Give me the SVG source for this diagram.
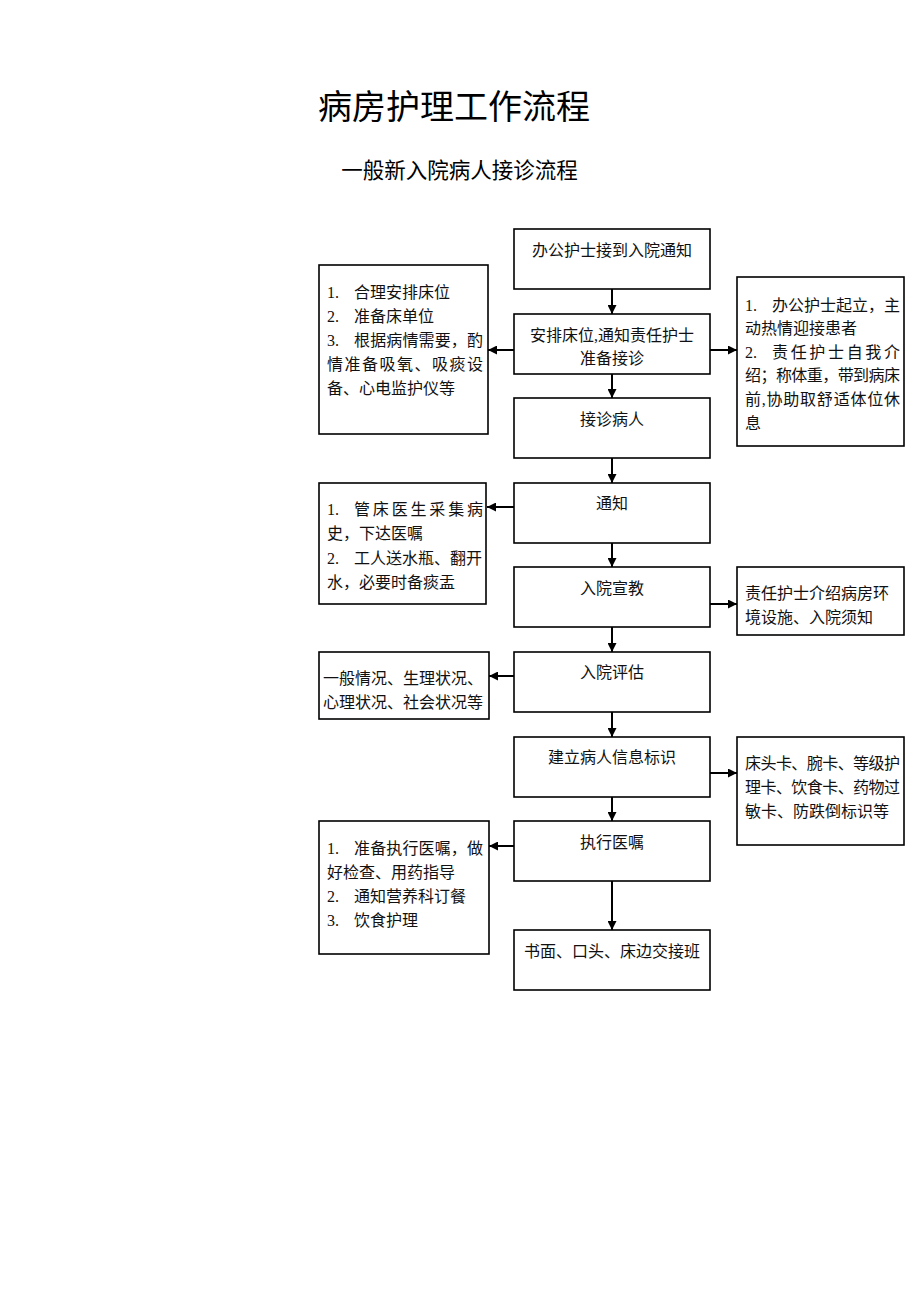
<svg xmlns="http://www.w3.org/2000/svg" width="920" height="1302" viewBox="0 0 920 1302">
<style>
  .bg { fill: #ffffff; }
  .box { fill: #ffffff; stroke: #000000; stroke-width: 1.6; }
  .t { font-family: "Liberation Serif", "Noto Sans CJK SC", serif; font-size: 16px; fill: #111111; }
  .c { text-anchor: middle; }
  .title { font-family: "Liberation Serif", "Noto Sans CJK SC", serif; font-size: 34px; fill: #000000; text-anchor: middle; }
  .sub { font-family: "Liberation Serif", "Noto Sans CJK SC", serif; font-size: 21.5px; fill: #000000; text-anchor: middle; }
  .ln { stroke: #000000; stroke-width: 2; fill: none; marker-end: url(#ah); }
</style>
<defs>
  <marker id="ah" viewBox="0 0 10 10" refX="10" refY="5" markerWidth="9" markerHeight="9" markerUnits="userSpaceOnUse" orient="auto">
    <path d="M0,0 L10,5 L0,10 z" fill="#000000"/>
  </marker>
</defs>
<rect class="bg" x="0" y="0" width="920" height="1302"/>

<text class="title" x="454" y="119">病房护理工作流程</text>
<text class="sub" x="459.5" y="178">一般新入院病人接诊流程</text>

<g id="connectors">
  <line class="ln" x1="612" y1="289" x2="612" y2="314"/>
  <line class="ln" x1="612" y1="374" x2="612" y2="398"/>
  <line class="ln" x1="612" y1="458" x2="612" y2="483"/>
  <line class="ln" x1="612" y1="543" x2="612" y2="567"/>
  <line class="ln" x1="612" y1="627" x2="612" y2="652"/>
  <line class="ln" x1="612" y1="712" x2="612" y2="737"/>
  <line class="ln" x1="612" y1="797" x2="612" y2="821"/>
  <line class="ln" x1="612" y1="881" x2="612" y2="930"/>
  <line class="ln" x1="514" y1="350" x2="488" y2="350"/>
  <line class="ln" x1="710" y1="350" x2="737" y2="350"/>
  <line class="ln" x1="514" y1="507" x2="487" y2="507"/>
  <line class="ln" x1="710" y1="604" x2="737" y2="604"/>
  <line class="ln" x1="514" y1="676" x2="489" y2="676"/>
  <line class="ln" x1="710" y1="773" x2="737" y2="773"/>
  <line class="ln" x1="514" y1="846" x2="489" y2="846"/>
</g>

<g id="n1">
  <rect class="box" x="514" y="229" width="196" height="60"/>
  <text class="t c" x="612" y="256">办公护士接到入院通知</text>
</g>
<g id="n2">
  <rect class="box" x="514" y="314" width="196" height="60"/>
  <text class="t c" x="612" y="341">安排床位,通知责任护士</text>
  <text class="t c" x="612" y="364">准备接诊</text>
</g>
<g id="n3">
  <rect class="box" x="514" y="398" width="196" height="60"/>
  <text class="t c" x="612" y="425">接诊病人</text>
</g>
<g id="n4">
  <rect class="box" x="514" y="483" width="196" height="60"/>
  <text class="t c" x="612" y="509">通知</text>
</g>
<g id="n5">
  <rect class="box" x="514" y="567" width="196" height="60"/>
  <text class="t c" x="612" y="594">入院宣教</text>
</g>
<g id="n6">
  <rect class="box" x="514" y="652" width="196" height="60"/>
  <text class="t c" x="612" y="678">入院评估</text>
</g>
<g id="n7">
  <rect class="box" x="514" y="737" width="196" height="60"/>
  <text class="t c" x="612" y="763">建立病人信息标识</text>
</g>
<g id="n8">
  <rect class="box" x="514" y="821" width="196" height="60"/>
  <text class="t c" x="612" y="848">执行医嘱</text>
</g>
<g id="n9">
  <rect class="box" x="514" y="930" width="196" height="60"/>
  <text class="t c" x="612" y="957">书面、口头、床边交接班</text>
</g>

<g id="l1">
  <rect class="box" x="319" y="265" width="169" height="169"/>
  <text class="t" y="298"><tspan x="327">1.</tspan><tspan x="354">合理安排床位</tspan></text>
  <text class="t" y="322"><tspan x="327">2.</tspan><tspan x="354">准备床单位</tspan></text>
  <text class="t" y="346"><tspan x="327">3.</tspan><tspan x="354" textLength="129" lengthAdjust="spacing">根据病情需要，酌</tspan></text>
  <text class="t" x="327" y="370" textLength="156" lengthAdjust="spacing">情准备吸氧、吸痰设</text>
  <text class="t" x="327" y="394">备、心电监护仪等</text>
</g>
<g id="r1">
  <rect class="box" x="737" y="277" width="167" height="169"/>
  <text class="t" y="311"><tspan x="745">1.</tspan><tspan x="772" textLength="128" lengthAdjust="spacing">办公护士起立，主</tspan></text>
  <text class="t" x="745" y="334">动热情迎接患者</text>
  <text class="t" y="358"><tspan x="745">2.</tspan><tspan x="772" textLength="128" lengthAdjust="spacing">责任护士自我介</tspan></text>
  <text class="t" x="745" y="381" textLength="155" lengthAdjust="spacing">绍；称体重，带到病床</text>
  <text class="t" x="745" y="405" textLength="155" lengthAdjust="spacing">前,协助取舒适体位休</text>
  <text class="t" x="745" y="429">息</text>
</g>
<g id="l2">
  <rect class="box" x="319" y="483" width="167" height="121"/>
  <text class="t" y="515"><tspan x="327">1.</tspan><tspan x="354" textLength="129" lengthAdjust="spacing">管床医生采集病</tspan></text>
  <text class="t" x="327" y="539">史，下达医嘱</text>
  <text class="t" y="564"><tspan x="327">2.</tspan><tspan x="354" textLength="128" lengthAdjust="spacing">工人送水瓶、翻开</tspan></text>
  <text class="t" x="327" y="588">水，必要时备痰盂</text>
</g>
<g id="r2">
  <rect class="box" x="737" y="567" width="167" height="68"/>
  <text class="t" x="745" y="599">责任护士介绍病房环</text>
  <text class="t" x="745" y="623">境设施、入院须知</text>
</g>
<g id="l3">
  <rect class="box" x="319" y="652" width="170" height="67"/>
  <text class="t" x="323" y="684" textLength="160" lengthAdjust="spacing">一般情况、生理状况、</text>
  <text class="t" x="323" y="708" textLength="160" lengthAdjust="spacing">心理状况、社会状况等</text>
</g>
<g id="r3">
  <rect class="box" x="737" y="737" width="167" height="108"/>
  <text class="t" x="745" y="769" textLength="155" lengthAdjust="spacing">床头卡、腕卡、等级护</text>
  <text class="t" x="745" y="793" textLength="155" lengthAdjust="spacing">理卡、饮食卡、药物过</text>
  <text class="t" x="745" y="817">敏卡、防跌倒标识等</text>
</g>
<g id="l4">
  <rect class="box" x="319" y="821" width="170" height="133"/>
  <text class="t" y="854"><tspan x="327">1.</tspan><tspan x="354" textLength="129" lengthAdjust="spacing">准备执行医嘱，做</tspan></text>
  <text class="t" x="327" y="878">好检查、用药指导</text>
  <text class="t" y="902"><tspan x="327">2.</tspan><tspan x="354">通知营养科订餐</tspan></text>
  <text class="t" y="926"><tspan x="327">3.</tspan><tspan x="354">饮食护理</tspan></text>
</g>
</svg>
